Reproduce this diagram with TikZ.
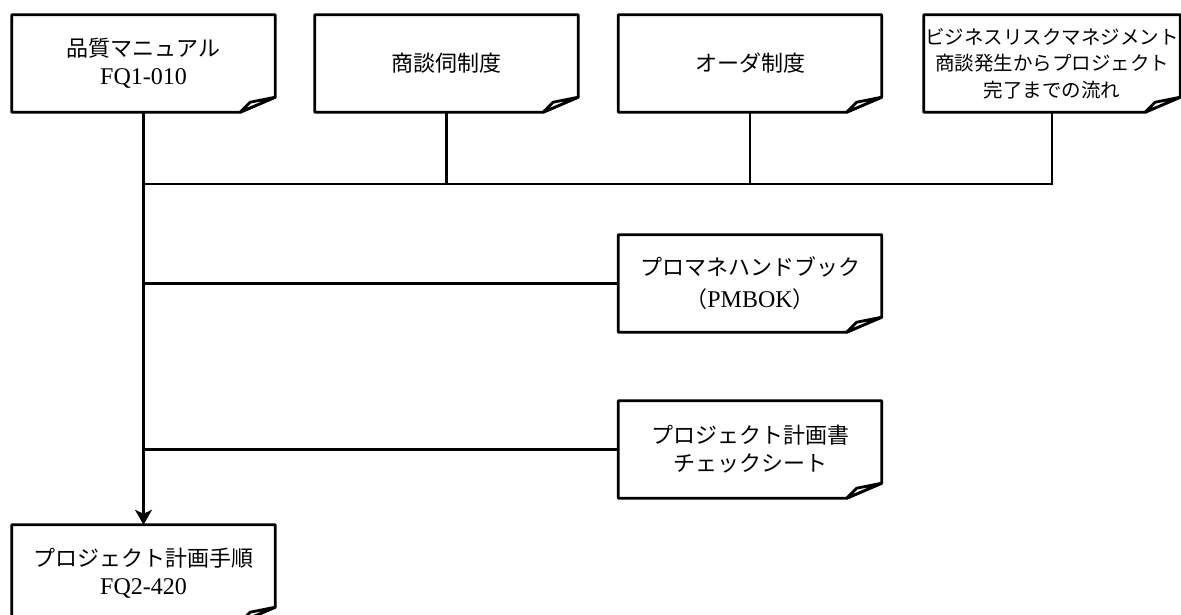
\documentclass[tikz,border=0pt]{standalone}
\usepackage{fontspec}
\setmainfont{Liberation Serif}
\newfontfamily\jp{Noto Sans CJK JP}
\newcommand\latn[1]{{\rmfamily\fontsize{24}{28}\selectfont #1}}
\usetikzlibrary{arrows.meta}
\tikzset{
  doc/.style={minimum width=263pt, minimum height=97pt, inner sep=0pt, align=center,
              font=\jp\fontsize{22}{28}\selectfont},
  docsmall/.style={doc, minimum width=256pt, font=\jp\fontsize{19.5}{26.5}\selectfont},
  docline/.style={line width=2.8pt, line join=round},
  conn/.style={line width=2.2pt},
}
\newcommand\docshape[1]{%
  \draw[docline] (#1.north west) -- (#1.north east) -- ([yshift=15pt]#1.south east)
     -- ([xshift=-35pt]#1.south east) -- (#1.south west) -- cycle;
  \draw[docline, fill=white] ([xshift=-35pt]#1.south east) -- ([xshift=-25pt,yshift=10pt]#1.south east)
     -- ([yshift=15pt]#1.south east) -- cycle;}
\begin{document}
\begin{tikzpicture}[x=1pt,y=-1pt]
\useasboundingbox (0,0) rectangle (1181,614);
\fill[white] (0,0) rectangle (1181,614);
% nodes
\node[doc] (b1) at (143.5,63.5) {品質マニュアル\\\latn{FQ1-010}};
\node[doc] (b2) at (446.5,63.5) {商談伺制度};
\node[doc] (b3) at (750,63.5) {オーダ制度};
\node[docsmall] (b4) at (1052,63.5) {ビジネスリスクマネジメント\\商談発生からプロジェクト\\完了までの流れ};
\node[doc, font=\jp\fontsize{22}{32}\selectfont] (pm) at (750,283.5) {プロマネハンドブック\\（\latn{PMBOK}）};
\node[doc] (cs) at (750,449.5) {プロジェクト計画書\\チェックシート};
\node[doc] (bot) at (143.5,573.5) {プロジェクト計画手順\\\latn{FQ2-420}};
% document outlines
\docshape{b1}
\docshape{b2}
\docshape{b3}
\docshape{b4}
\docshape{pm}
\docshape{cs}
\docshape{bot}
% connectors
\coordinate (bus) at (143.5,184);
\draw[conn] (b2.south) |- (bus);
\draw[conn] (b3.south) |- (bus);
\draw[conn] (b4.south) |- (bus);
\draw[conn] (pm.west) -- (pm.west -| b1.south);
\draw[conn] (cs.west) -- (cs.west -| b1.south);
\draw[conn, -{Stealth[length=15pt,width=17pt,inset=4pt]}] (b1.south) -- (bot.north);
\end{tikzpicture}
\end{document}
